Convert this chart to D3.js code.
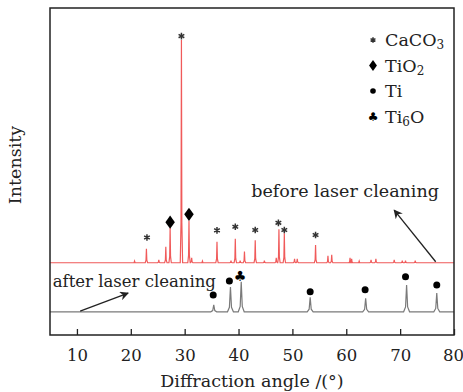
<!DOCTYPE html>
<html>
<head>
<meta charset="utf-8">
<script src="https://cdn.jsdelivr.net/npm/d3@7"></script>
<style>
  body { margin: 0; background: #fff; }
  svg text { font-family: "DejaVu Serif", serif; fill: #222; }
</style>
</head>
<body>
<div id="chart"></div>
<script>
// peaks: [angle (deg), height above baseline (a.u.)]
const beforePeaks = [
  [20.7, 0.5], [22.9, 4.3], [25.2, 0.9], [26.5, 4.9], [27.3, 10.7], [29.4, 68.1],
  [30.8, 12.8], [31.3, 1.5], [33.3, 0.5], [36.0, 6.4], [38.6, 0.6], [39.4, 7.3],
  [40.3, 0.6], [41.1, 3.4], [43.1, 6.9], [44.8, 0.6], [47.0, 1.5], [47.5, 10.2],
  [48.5, 9.0], [50.4, 1.2], [50.9, 1.2], [54.3, 5.4], [56.6, 2.1], [57.3, 2.4],
  [60.7, 1.5], [61.0, 1.2], [62.4, 0.5], [64.6, 0.9], [65.5, 1.2], [68.9, 0.9],
  [70.4, 0.6], [71.0, 0.6], [72.8, 0.6]
];
const afterPeaks = [
  [35.4, 2.1], [38.5, 7.6], [40.5, 9.2], [53.3, 4.4], [63.6, 4.1], [71.2, 8.2], [76.8, 5.7]
];
const beforeBase = 22.1;
const afterBase = 7.1;

// phase markers: [angle, intensity, phase]
const beforeMarks = [
  [23.0, 29.8, 'CaCO3'], [27.3, 34.5, 'TiO2'], [29.4, 91.4, 'CaCO3'], [30.8, 36.9, 'TiO2'],
  [36.0, 32.0, 'CaCO3'], [39.4, 33.1, 'CaCO3'], [43.1, 32.1, 'CaCO3'], [47.4, 34.3, 'CaCO3'],
  [48.5, 32.1, 'CaCO3'], [54.3, 30.6, 'CaCO3']
];
const afterMarks = [
  [35.3, 12.2, 'Ti'], [38.3, 16.5, 'Ti'], [40.3, 18.0, 'Ti6O'], [53.3, 13.2, 'Ti'],
  [63.5, 13.8, 'Ti'], [71.0, 17.8, 'Ti'], [76.8, 15.3, 'Ti']
];

const xTicks = [10, 20, 30, 40, 50, 60, 70, 80];
const legendItems = [
  {phase: 'CaCO3', base: 'CaCO', sub: '3', tail: ''},
  {phase: 'TiO2', base: 'TiO', sub: '2', tail: ''},
  {phase: 'Ti', base: 'Ti', sub: '', tail: ''},
  {phase: 'Ti6O', base: 'Ti', sub: '6', tail: 'O'}
];

const width = 463;
const height = 392;
const margin = {top: 8, right: 9, bottom: 57, left: 50};
const plotWidth = width - margin.left - margin.right;
const plotHeight = height - margin.top - margin.bottom;
const fs = '17.5px';

const svg = d3.select('#chart').append('svg')
  .attr('width', width)
  .attr('height', height);

const plot = svg.append('g')
  .attr('transform', `translate(${margin.left},${margin.top})`);

const x = d3.scaleLinear().domain([5, 80]).range([0, plotWidth]);
const y = d3.scaleLinear().domain([0, 100]).range([plotHeight, 0]);

// turn the peak table into a line: flat baseline with a sharp profile at each peak
function profile(peaks, base, w) {
  const pts = [[5, base]];
  peaks.forEach(([a, h]) => {
    pts.push([a - w, base], [a - w * 0.35, base + h * 0.18], [a, base + h],
      [a + w * 0.35, base + h * 0.18], [a + w, base]);
  });
  pts.push([80, base]);
  return pts;
}

const line = d3.line().x(d => x(d[0])).y(d => y(d[1]));

plot.append('path')
  .datum(profile(beforePeaks, beforeBase, 0.22))
  .attr('fill', 'none')
  .attr('stroke', '#f05a5a')
  .attr('stroke-width', 1.2)
  .attr('d', line);

plot.append('path')
  .datum(profile(afterPeaks, afterBase, 0.55))
  .attr('fill', 'none')
  .attr('stroke', '#7a7a7a')
  .attr('stroke-width', 1.2)
  .attr('d', line);

// markers
function drawMark(g, phase, cx, cy, legend) {
  if (phase === 'CaCO3') {
    g.append('path')
      .attr('transform', `translate(${cx},${cy})`)
      .attr('d', d3.symbol(d3.symbolAsterisk, legend ? 22 : 30)())
      .attr('fill', 'none')
      .attr('stroke', '#333')
      .attr('stroke-width', 1.5);
  } else if (phase === 'TiO2') {
    g.append('path')
      .attr('transform', `translate(${cx},${cy}) scale(1.25,1)`)
      .attr('d', d3.symbol(d3.symbolDiamond, legend ? 34 : 50)())
      .attr('fill', '#000');
  } else if (phase === 'Ti') {
    g.append('circle')
      .attr('cx', cx).attr('cy', cy)
      .attr('r', legend ? 2.8 : 3.5)
      .attr('fill', '#000');
  } else {
    g.append('text')
      .attr('x', cx).attr('y', cy)
      .attr('text-anchor', 'middle')
      .attr('dominant-baseline', 'central')
      .style('font-family', '"DejaVu Sans", sans-serif')
      .style('font-size', legend ? '12px' : '14px')
      .style('fill', '#000')
      .text('\u2663');
  }
}

const marks = plot.append('g');
beforeMarks.concat(afterMarks).forEach(([a, v, p]) => drawMark(marks, p, x(a), y(v), false));

// frame
plot.append('rect')
  .attr('width', plotWidth)
  .attr('height', plotHeight)
  .attr('fill', 'none')
  .attr('stroke', '#222')
  .attr('stroke-width', 1.5);

// bottom axis, ticks inward
const xAxis = plot.append('g')
  .attr('transform', `translate(0,${plotHeight})`)
  .call(d3.axisBottom(x).tickValues(xTicks).tickSizeInner(-6).tickSizeOuter(0).tickPadding(14));
xAxis.select('.domain').remove();
xAxis.selectAll('line').attr('stroke', '#222').attr('stroke-width', 1.3);
xAxis.selectAll('text')
  .style('font-family', '"DejaVu Serif", serif')
  .style('font-size', '16.5px')
  .attr('fill', '#222');
xAxis.selectAll('.tick').filter(d => d === 80).select('text').attr('dx', -1);

// axis titles
svg.append('text')
  .attr('x', margin.left + plotWidth / 2)
  .attr('y', 387)
  .attr('text-anchor', 'middle')
  .style('font-size', fs)
  .text('Diffraction angle /(°)');

svg.append('text')
  .attr('transform', `translate(21,165) rotate(-90)`)
  .attr('text-anchor', 'middle')
  .style('font-size', fs)
  .text('Intensity');

// curve labels and arrows
svg.append('defs').append('marker')
  .attr('id', 'head')
  .attr('viewBox', '0 0 10 10')
  .attr('refX', 9).attr('refY', 5)
  .attr('markerWidth', 9).attr('markerHeight', 9)
  .attr('markerUnits', 'userSpaceOnUse')
  .attr('orient', 'auto')
  .append('path')
  .attr('d', 'M0,0 L10,5 L0,10 L3,5 Z')
  .attr('fill', '#222');

const arrows = [
  {from: [76.6, 22.4], to: [68.9, 38.2]},
  {from: [10.6, 7.3], to: [19.5, 12.8]}
];
plot.selectAll('.arrow')
  .data(arrows)
  .join('line')
  .attr('class', 'arrow')
  .attr('x1', d => x(d.from[0])).attr('y1', d => y(d.from[1]))
  .attr('x2', d => x(d.to[0])).attr('y2', d => y(d.to[1]))
  .attr('stroke', '#222')
  .attr('stroke-width', 1.3)
  .attr('marker-end', 'url(#head)');

plot.append('text')
  .attr('x', x(77.2)).attr('y', y(42.2))
  .attr('text-anchor', 'end')
  .style('font-size', fs)
  .text('before laser cleaning');

plot.append('text')
  .attr('x', x(5.5)).attr('y', y(14.6))
  .style('font-size', '16.5px')
  .text('after laser cleaning');

// legend
const legend = svg.append('g').attr('transform', 'translate(373,40)');
legendItems.forEach((d, i) => {
  const row = legend.append('g').attr('transform', `translate(0,${i * 25.5})`);
  drawMark(row, d.phase, 0, 0, true);
  const t = row.append('text')
    .attr('x', 12).attr('y', 6)
    .style('font-size', fs);
  t.append('tspan').text(d.base);
  if (d.sub) {
    t.append('tspan').attr('dy', 3).style('font-size', '12px').text(d.sub);
  }
  if (d.tail) {
    t.append('tspan').attr('dy', -3).text(d.tail);
  }
});
</script>
</body>
</html>
